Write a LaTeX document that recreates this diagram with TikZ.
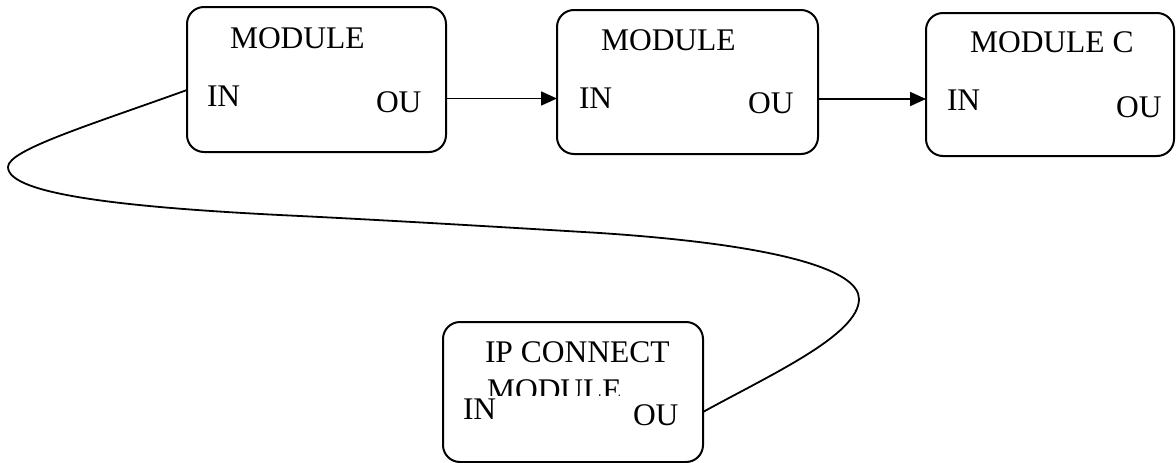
\documentclass[tikz,border=0pt]{standalone}
\usepackage{fontspec}
\setmainfont{Liberation Serif}
\usetikzlibrary{arrows.meta}
\begin{document}
\begin{tikzpicture}[x=1pt,y=-1pt,
  modbox/.style={draw, line width=2pt, rounded corners=17pt, rectangle, inner sep=0pt, outer sep=0pt},
  lbl/.style={inner sep=0pt, outer sep=0pt, anchor=base west, font=\fontsize{31.5pt}{37pt}\selectfont},
  conn/.style={line width=1.8pt},
  arr/.style={line width=1.8pt, -{Triangle[length=16pt,width=14pt]}}]
\useasboundingbox (0,0) rectangle (1176,463);
% boxes
\node[modbox, minimum width=259pt, minimum height=145pt] (A) at (316.5,79.5) {};
\node[modbox, minimum width=261pt, minimum height=144pt] (B) at (687.5,82) {};
\node[modbox, minimum width=248pt, minimum height=143pt] (C) at (1050,84.5) {};
\node[modbox, minimum width=260pt, minimum height=140pt] (D) at (573,392) {};
% texts A
\node[lbl] (At) at (230,48) {MODULE};
\node[lbl] (Ai) at (207,106) {IN};
\node[lbl] (Ao) at (376,112) {OU};
% texts B
\node[lbl] (Bt) at (601,50) {MODULE};
\node[lbl] (Bi) at (579,108) {IN};
\node[lbl] (Bo) at (748,113) {OU};
% texts C
\node[lbl] (Ct) at (970,52) {MODULE C};
\node[lbl] (Ci) at (947,110) {IN};
\node[lbl] (Co) at (1116,117) {OU};
% texts D
\node[lbl] (Dt) at (485,362) {IP CONNECT};
\begin{scope}
\clip (443,370) rectangle (703,395);
\node[lbl] (Dm) at (487,400) {MODULE};
\end{scope}
\node[lbl] (Di) at (463,419) {IN};
\node[lbl] (Do) at (633,425) {OU};
% arrows
\draw[arr] ([xshift=1pt,yshift=-19pt]A.east) -- ([yshift=-16.5pt]B.west);
\draw[arr] ([yshift=-17pt]B.east) -- ([yshift=-14.5pt]C.west);
% loop connector
\draw[conn] ([yshift=-10.5pt]A.west) .. controls (90,125) and (8,150) .. (8,167)
  .. controls (8,195) and (130,208) .. (300,216)
  .. controls (400,221) and (500,227) .. (600,233)
  .. controls (780,245) and (859,270) .. (859,299)
  .. controls (859,335) and (770,375) .. ([yshift=-20pt]D.east);
\end{tikzpicture}
\end{document}
